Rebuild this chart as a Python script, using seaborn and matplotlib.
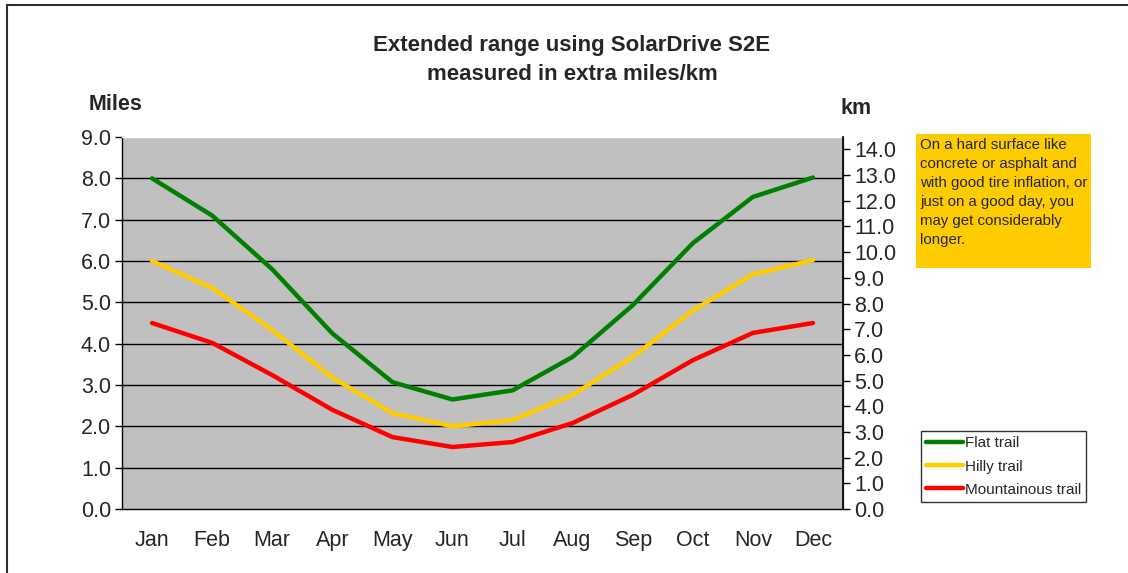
"""Extended range chart: extra miles/km per month for three trail types."""
import matplotlib
matplotlib.use("Agg")
import matplotlib.pyplot as plt
import matplotlib.patches as mpatches
import numpy as np
import pandas as pd
import seaborn as sns

MONTHS = ["Jan", "Feb", "Mar", "Apr", "May", "Jun",
          "Jul", "Aug", "Sep", "Oct", "Nov", "Dec"]
FLAT = [8.0, 7.1, 5.8, 4.25, 3.07, 2.65, 2.87, 3.68, 4.93, 6.43, 7.55, 8.02]
HILLY = [6.0, 5.35, 4.33, 3.18, 2.32, 2.0, 2.15, 2.76, 3.68, 4.8, 5.68, 6.02]
MOUNTAIN = [4.5, 4.02, 3.24, 2.4, 1.74, 1.5, 1.62, 2.08, 2.76, 3.6, 4.26, 4.5]
SERIES = ["Flat trail", "Hilly trail", "Mountainous trail"]
PALETTE = {"Flat trail": "#008000", "Hilly trail": "#FFCC00",
           "Mountainous trail": "#FF0000"}
KM_PER_MILE = 1.609344
NOTE = ("On a hard surface like\nconcrete or asphalt and\n"
        "with good tire inflation, or\njust on a good day, you\n"
        "may get considerably\nlonger.")

sns.set_theme(style="white")
plt.rcParams["font.family"] = ["Liberation Sans", "DejaVu Sans"]

TICK_FS = 15.5

df = pd.DataFrame({
    "month": MONTHS * 3,
    "x": list(range(len(MONTHS))) * 3,
    "miles": FLAT + HILLY + MOUNTAIN,
    "trail": [s for s in SERIES for _ in MONTHS],
})

fig = plt.figure(figsize=(11.28, 5.73), dpi=100)
ax = fig.add_axes([122 / 1128, 1 - 509 / 573, (843 - 122) / 1128, (509 - 137) / 573])
ax.set_facecolor("#C0C0C0")

sns.lineplot(data=df, x="x", y="miles", hue="trail", palette=PALETTE,
             hue_order=SERIES, linewidth=3.2, ax=ax, legend=False)

ax.set_xlim(-0.5, len(MONTHS) - 0.5)
ax.set_ylim(0, 9)
ax.set_yticks(np.arange(0, 9.01, 1.0))
ax.set_yticklabels([f"{v:.1f}" for v in np.arange(0, 9.01, 1.0)], fontsize=TICK_FS)
ax.set_xticks(range(len(MONTHS)))
ax.set_xticklabels(MONTHS, fontsize=TICK_FS)
ax.set_xticks(np.arange(-0.5, len(MONTHS)), minor=True)
ax.tick_params(axis="x", which="major", length=0, pad=15)
ax.tick_params(axis="x", which="minor", length=5, width=1, direction="out", color="black")
ax.tick_params(axis="y", length=5, width=1, direction="out", color="black", pad=3)
for y in range(1, 9):
    ax.axhline(y, color="black", linewidth=1, zorder=0.5)
ax.set_xlabel("")
ax.set_ylabel("")
for side, sp in ax.spines.items():
    sp.set_color("#808080" if side != "top" else "white")
    sp.set_linewidth(1)
ax.spines["left"].set_color("black")
ax.spines["bottom"].set_color("black")

ax2 = ax.twinx()
ax2.set_ylim(0, 9 * KM_PER_MILE)
km_ticks = np.arange(0, 14.01, 1.0)
ax2.set_yticks(km_ticks)
ax2.set_yticklabels([f"{v:.1f}" for v in km_ticks], fontsize=TICK_FS)
ax2.tick_params(axis="y", length=5, width=1, direction="out", color="black", pad=3)
ax2.spines["right"].set_color("black")
ax2.spines["top"].set_visible(False)
ax2.spines["left"].set_visible(False)
ax2.spines["bottom"].set_visible(False)

fig.text(572 / 1128, 1 - 60 / 573,
         "Extended range using SolarDrive S2E\nmeasured in extra miles/km",
         ha="center", va="center", fontsize=16, fontweight="bold", linespacing=1.45)
fig.text(116 / 1128, 1 - 105 / 573, "Miles", ha="center", va="center",
         fontsize=15.5, fontweight="bold")
fig.text(856 / 1128, 1 - 108 / 573, "km", ha="center", va="center",
         fontsize=15.5, fontweight="bold")

# note box
fig.patches.append(mpatches.Rectangle((916 / 1128, 1 - 268 / 573), 175 / 1128, 134 / 573,
                                      transform=fig.transFigure, facecolor="#FFCC00",
                                      edgecolor="none"))
fig.text(920 / 1128, 1 - 138 / 573, NOTE, ha="left", va="top", fontsize=10.8,
         linespacing=1.45)

handles = [plt.Line2D([], [], color=PALETTE[s], linewidth=3.2) for s in SERIES]
leg = fig.legend(handles, SERIES, loc="upper left",
                 bbox_to_anchor=(921 / 1128, 1 - 431 / 573), frameon=True,
                 fontsize=11, handlelength=2.4, handletextpad=0.1,
                 borderpad=0.35, borderaxespad=0, labelspacing=0.6,
                 fancybox=False)
leg.get_frame().set_edgecolor("black")
leg.get_frame().set_linewidth(1)

# outer chart border (continues beyond the right and bottom edges)
fig.patches.append(mpatches.Rectangle((7 / 1128, -0.1), 1.2, 1.1 - 5 / 573,
                                      transform=fig.transFigure, facecolor="none",
                                      edgecolor="#303030", linewidth=1.5))

fig.savefig("out.png", dpi=100)
